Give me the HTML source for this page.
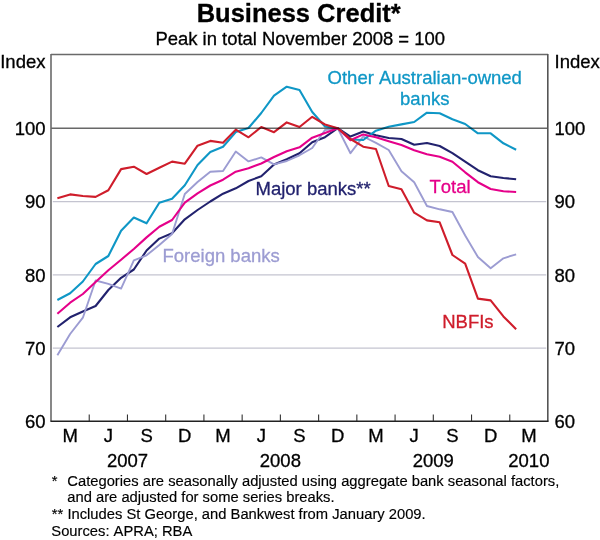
<!DOCTYPE html>
<html><head><meta charset="utf-8"><title>Business Credit</title>
<style>
html,body{margin:0;padding:0;background:#fff;}
body{width:600px;height:540px;overflow:hidden;position:relative;}
svg{position:absolute;left:0;top:0;display:block;will-change:transform;}
text{font-family:'Liberation Sans', Arial, sans-serif;font-kerning:none;stroke:currentColor;}
text{stroke-width:0.3px;} g text{stroke-width:0.15px;}
</style></head><body>
<svg width="600" height="540" viewBox="0 0 600 540">
<rect x="0" y="0" width="600" height="540" fill="#fff"/>

<text x="298.7" y="22" text-anchor="middle" font-size="25.5" font-weight="bold" fill="#000">Business Credit*</text>
<text x="300.2" y="44.7" text-anchor="middle" font-size="18.45" fill="#000">Peak in total November 2008 = 100</text>
<line x1="52.8" y1="201.58" x2="546.2" y2="201.58" stroke="#c4c4d0" stroke-width="1.25"/>
<line x1="52.8" y1="274.91" x2="546.2" y2="274.91" stroke="#c4c4d0" stroke-width="1.25"/>
<line x1="52.8" y1="348.24" x2="546.2" y2="348.24" stroke="#c4c4d0" stroke-width="1.25"/>
<line x1="89.23" y1="414.5" x2="89.23" y2="421" stroke="#333" stroke-width="1.1"/>
<line x1="127.46" y1="414.5" x2="127.46" y2="421" stroke="#333" stroke-width="1.1"/>
<line x1="165.69" y1="414.5" x2="165.69" y2="421" stroke="#333" stroke-width="1.1"/>
<line x1="203.92" y1="414.5" x2="203.92" y2="421" stroke="#333" stroke-width="1.1"/>
<line x1="242.15" y1="414.5" x2="242.15" y2="421" stroke="#333" stroke-width="1.1"/>
<line x1="280.38" y1="414.5" x2="280.38" y2="421" stroke="#333" stroke-width="1.1"/>
<line x1="318.62" y1="414.5" x2="318.62" y2="421" stroke="#333" stroke-width="1.1"/>
<line x1="356.85" y1="414.5" x2="356.85" y2="421" stroke="#333" stroke-width="1.1"/>
<line x1="395.08" y1="414.5" x2="395.08" y2="421" stroke="#333" stroke-width="1.1"/>
<line x1="433.31" y1="414.5" x2="433.31" y2="421" stroke="#333" stroke-width="1.1"/>
<line x1="471.54" y1="414.5" x2="471.54" y2="421" stroke="#333" stroke-width="1.1"/>
<line x1="509.77" y1="414.5" x2="509.77" y2="421" stroke="#333" stroke-width="1.1"/>
<polyline points="57.37,327.00 70.12,317.30 82.86,311.50 95.60,306.00 108.35,290.00 121.09,277.80 133.83,269.50 146.58,250.50 159.32,238.60 172.06,233.30 184.81,219.30 197.55,210.00 210.29,201.50 223.04,193.70 235.78,188.30 248.53,181.00 261.27,176.30 274.01,164.50 286.76,159.20 299.50,153.30 312.24,142.30 324.99,137.20 337.73,128.25 350.47,136.60 363.22,131.60 375.96,135.30 388.71,138.00 401.45,139.00 414.19,144.70 426.94,143.00 439.68,146.00 452.42,153.20 465.17,161.70 477.91,170.20 490.65,176.30 503.40,178.00 516.14,179.30" fill="none" stroke="#22226e" stroke-width="2.1" stroke-linejoin="round" stroke-linecap="butt"/>
<polyline points="57.37,355.30 70.12,334.00 82.86,317.70 95.60,280.50 108.35,283.80 121.09,288.60 133.83,260.30 146.58,255.30 159.32,245.00 172.06,234.00 184.81,194.00 197.55,182.00 210.29,171.70 223.04,171.00 235.78,151.60 248.53,161.40 261.27,157.40 274.01,164.40 286.76,161.00 299.50,155.30 312.24,148.00 324.99,130.00 337.73,128.25 350.47,153.20 363.22,136.50 375.96,142.80 388.71,150.00 401.45,171.20 414.19,182.30 426.94,206.00 439.68,209.30 452.42,212.00 465.17,235.50 477.91,257.00 490.65,268.30 503.40,258.30 516.14,254.30" fill="none" stroke="#9c9cd2" stroke-width="1.9" stroke-linejoin="round" stroke-linecap="butt"/>
<polyline points="57.37,300.00 70.12,293.30 82.86,281.50 95.60,264.00 108.35,256.00 121.09,230.70 133.83,217.50 146.58,223.30 159.32,202.80 172.06,198.70 184.81,185.30 197.55,165.00 210.29,152.00 223.04,146.70 235.78,132.00 248.53,128.00 261.27,113.00 274.01,95.70 286.76,86.70 299.50,90.00 312.24,112.00 324.99,126.50 337.73,128.25 350.47,139.50 363.22,140.00 375.96,130.70 388.71,126.70 401.45,124.40 414.19,122.00 426.94,112.70 439.68,113.30 452.42,119.30 465.17,124.00 477.91,133.30 490.65,133.30 503.40,143.30 516.14,149.70" fill="none" stroke="#0f97c6" stroke-width="2.1" stroke-linejoin="round" stroke-linecap="butt"/>
<polyline points="57.37,313.70 70.12,302.70 82.86,294.00 95.60,282.00 108.35,270.30 121.09,259.70 133.83,249.00 146.58,237.40 159.32,226.70 172.06,220.00 184.81,202.70 197.55,193.30 210.29,185.50 223.04,179.70 235.78,171.70 248.53,168.30 261.27,163.50 274.01,157.00 286.76,151.30 299.50,147.30 312.24,137.70 324.99,133.00 337.73,128.25 350.47,140.20 363.22,134.40 375.96,137.30 388.71,141.30 401.45,145.00 414.19,150.20 426.94,154.20 439.68,156.80 452.42,161.70 465.17,172.30 477.91,182.20 490.65,189.00 503.40,191.30 516.14,192.00" fill="none" stroke="#e5008a" stroke-width="2.1" stroke-linejoin="round" stroke-linecap="butt"/>
<polyline points="57.37,198.30 70.12,194.40 82.86,196.00 95.60,196.90 108.35,190.30 121.09,169.10 133.83,166.70 146.58,174.00 159.32,167.70 172.06,161.60 184.81,163.70 197.55,145.70 210.29,140.90 223.04,142.70 235.78,129.70 248.53,137.30 261.27,127.00 274.01,132.20 286.76,122.40 299.50,127.00 312.24,116.80 324.99,124.50 337.73,128.25 350.47,139.00 363.22,146.70 375.96,149.00 388.71,186.00 401.45,189.30 414.19,212.70 426.94,220.40 439.68,222.30 452.42,255.00 465.17,263.70 477.91,298.60 490.65,300.40 503.40,316.40 516.14,329.20" fill="none" stroke="#cf1d2b" stroke-width="2.1" stroke-linejoin="round" stroke-linecap="butt"/>
<line x1="51" y1="128.25" x2="548" y2="128.25" stroke="#686868" stroke-width="1.4" style="mix-blend-mode:multiply"/>
<line x1="51" y1="54.5" x2="548" y2="54.5" stroke="#6a6a6a" stroke-width="1.4"/>
<line x1="51" y1="54" x2="51" y2="421.5" stroke="#6a6a6a" stroke-width="1.6"/>
<line x1="547.8" y1="54" x2="547.8" y2="421.5" stroke="#555" stroke-width="1.6"/>
<line x1="50.5" y1="421.2" x2="548.5" y2="421.2" stroke="#222" stroke-width="1.4"/>
<text x="45.5" y="67.7" text-anchor="end" font-size="18.5">Index</text>
<text x="554.5" y="67.7" font-size="18.5">Index</text>
<text x="45.5" y="134.88" text-anchor="end" font-size="18.5">100</text>
<text x="554.5" y="134.88" font-size="18.5">100</text>
<text x="45.5" y="208.21" text-anchor="end" font-size="18.5">90</text>
<text x="554.5" y="208.21" font-size="18.5">90</text>
<text x="45.5" y="281.54" text-anchor="end" font-size="18.5">80</text>
<text x="554.5" y="281.54" font-size="18.5">80</text>
<text x="45.5" y="354.87" text-anchor="end" font-size="18.5">70</text>
<text x="554.5" y="354.87" font-size="18.5">70</text>
<text x="45.5" y="428.20" text-anchor="end" font-size="18.5">60</text>
<text x="554.5" y="428.20" font-size="18.5">60</text>
<text x="70.12" y="442" text-anchor="middle" font-size="18.5">M</text>
<text x="108.35" y="442" text-anchor="middle" font-size="18.5">J</text>
<text x="146.58" y="442" text-anchor="middle" font-size="18.5">S</text>
<text x="184.81" y="442" text-anchor="middle" font-size="18.5">D</text>
<text x="223.04" y="442" text-anchor="middle" font-size="18.5">M</text>
<text x="261.27" y="442" text-anchor="middle" font-size="18.5">J</text>
<text x="299.50" y="442" text-anchor="middle" font-size="18.5">S</text>
<text x="337.73" y="442" text-anchor="middle" font-size="18.5">D</text>
<text x="375.96" y="442" text-anchor="middle" font-size="18.5">M</text>
<text x="414.19" y="442" text-anchor="middle" font-size="18.5">J</text>
<text x="452.42" y="442" text-anchor="middle" font-size="18.5">S</text>
<text x="490.65" y="442" text-anchor="middle" font-size="18.5">D</text>
<text x="528.88" y="442" text-anchor="middle" font-size="18.5">M</text>
<text x="127.46" y="466.8" text-anchor="middle" font-size="18.5">2007</text>
<text x="280.38" y="466.8" text-anchor="middle" font-size="18.5">2008</text>
<text x="433.31" y="466.8" text-anchor="middle" font-size="18.5">2009</text>
<text x="528.88" y="466.8" text-anchor="middle" font-size="18.5">2010</text>
<text x="424.75" y="84" text-anchor="middle" font-size="18.5" fill="#0f97c6" color="#0f97c6">Other Australian-owned</text>
<text x="424.75" y="105.2" text-anchor="middle" font-size="18.5" fill="#0f97c6" color="#0f97c6">banks</text>
<text x="255.5" y="195.1" font-size="18.5" fill="#22226e" color="#22226e">Major banks**</text>
<text x="162.5" y="261.5" font-size="18.5" fill="#9c9cd2" color="#9c9cd2">Foreign banks</text>
<text x="429.5" y="193.3" font-size="18.5" fill="#e5008a" color="#e5008a">Total</text>
<text x="442.2" y="327.8" font-size="18.5" fill="#cf1d2b" color="#cf1d2b">NBFIs</text>
<g style="stroke-width:0.15px">
<text x="51.8" y="486.3" font-size="14.75">*</text>
<text x="67.3" y="486.3" font-size="14.75">Categories are seasonally adjusted using aggregate bank seasonal factors,</text>
<text x="67.3" y="502.4" font-size="14.75">and are adjusted for some series breaks.</text>
<text x="51.8" y="519.0" font-size="14.75">** Includes St George, and Bankwest from January 2009.</text>
<text x="51.3" y="535.9" font-size="14.75">Sources: APRA; RBA</text>
</g>
</svg></body></html>
